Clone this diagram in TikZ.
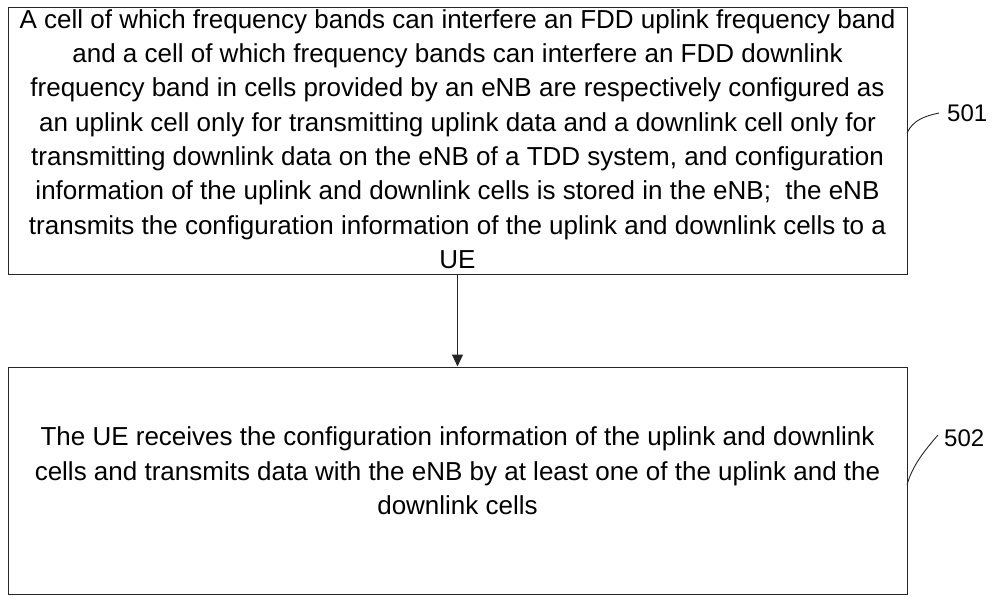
\documentclass[tikz,border=0pt]{standalone}
\usepackage{fontspec}
\setmainfont{Liberation Sans}
\usetikzlibrary{arrows.meta}
\tikzset{
  stepbox/.style={draw=black!85, line width=1pt, rectangle, inner sep=0pt},
  steptext/.style={align=center, inner sep=0pt, font=\fontsize{26}{34.3}\selectfont},
  leader/.style={draw=black!85, line width=0.9pt},
  reflabel/.style={anchor=west, inner sep=0pt, font=\fontsize{24}{26}\selectfont},
  flow/.style={draw=black!85, line width=1pt, -{Triangle[length=12pt,width=11pt]}}
}
\begin{document}
\begin{tikzpicture}[x=1pt,y=-1pt]
\useasboundingbox (0,0) rectangle (994,597);
\node[stepbox, minimum width=899pt, minimum height=267pt] (b1) at (457.5,140.5) {};
\node[steptext] (t1) at (457.5,139)
 {A cell of which frequency bands can interfere an FDD uplink frequency band\\
  and a cell of which frequency bands can interfere an FDD downlink\\
  frequency band in cells provided by an eNB are respectively configured as\\
  an uplink cell only for transmitting uplink data and a downlink cell only for\\
  transmitting downlink data on the eNB of a TDD system, and configuration\\
  information of the uplink and downlink cells is stored in the eNB;\ \ the eNB\\
  transmits the configuration information of the uplink and downlink cells to a\\
  UE};
\node[stepbox, minimum width=899pt, minimum height=227pt] (b2) at (457.5,480.5) {};
\node[steptext] (t2) at (457.5,471)
 {The UE receives the configuration information of the uplink and downlink\\
  cells and transmits data with the eNB by at least one of the uplink and the\\
  downlink cells};
\draw[flow] (b1.south) -- (b2.north);
\node[reflabel] (l1) at (947,113) {501};
\node[reflabel] (l2) at (944,438) {502};
\coordinate (p1) at (907,133);
\coordinate (p2) at (907,485);
\draw[leader] (p1) .. controls (913,120) and (925,116) .. ([xshift=-8pt]l1.west);
\draw[leader] (p2) .. controls (912,466) and (925,450) .. ([xshift=-6pt,yshift=3pt]l2.west);
\end{tikzpicture}
\end{document}
